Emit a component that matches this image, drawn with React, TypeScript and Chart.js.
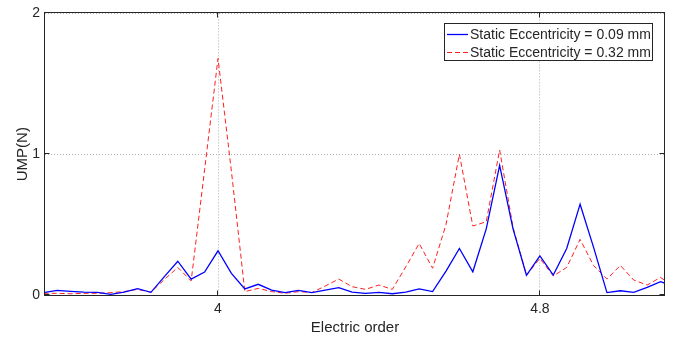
import { useEffect, useRef } from 'react';
import { Chart, registerables } from 'chart.js';

Chart.register(...registerables);

// Electric order (x) of each sample
const orders = [
  3.5667, 3.6, 3.6333, 3.6667, 3.7, 3.7333, 3.7667, 3.8, 3.8333, 3.8667,
  3.9, 3.9333, 3.9667, 4.0, 4.0333, 4.0667, 4.1, 4.1333, 4.1667, 4.2,
  4.2333, 4.2667, 4.3, 4.3333, 4.3667, 4.4, 4.4333, 4.4667, 4.5, 4.5333,
  4.5667, 4.6, 4.6333, 4.6667, 4.7, 4.7333, 4.7667, 4.8, 4.8333, 4.8667,
  4.9, 4.9333, 4.9667, 5.0, 5.0333, 5.0667, 5.1, 5.1333,
];

// UMP (N), static eccentricity 0.09 mm
const ecc009 = [
  0.017, 0.033, 0.026, 0.021, 0.019, 0.005, 0.021, 0.045, 0.019, 0.13,
  0.24, 0.113, 0.163, 0.314, 0.154, 0.043, 0.076, 0.035, 0.017, 0.033,
  0.017, 0.035, 0.052, 0.021, 0.012, 0.019, 0.009, 0.021, 0.043, 0.024,
  0.17, 0.33, 0.165, 0.47, 0.92, 0.47, 0.14, 0.277, 0.142, 0.33,
  0.645, 0.34, 0.017, 0.03, 0.019, 0.054, 0.095, 0.06,
];

// UMP (N), static eccentricity 0.32 mm
const ecc032 = [
  0.012, 0.012, 0.009, 0.012, 0.012, 0.017, 0.024, 0.04, 0.02, 0.11,
  0.196, 0.1, 0.89, 1.68, 0.88, 0.024, 0.047, 0.024, 0.012, 0.024,
  0.017, 0.064, 0.113, 0.059, 0.04, 0.071, 0.04, 0.2, 0.366, 0.19,
  0.5, 1.0, 0.49, 0.52, 1.03, 0.48, 0.14, 0.26, 0.135, 0.196,
  0.395, 0.21, 0.113, 0.21, 0.106, 0.071, 0.125, 0.06,
];

const seriesLabels = ['Static Eccentricity = 0.09 mm', 'Static Eccentricity = 0.32 mm'];
const xTickValues = [4, 4.8];
const xTickLabels = ['4', '4.8'];
const yTickValues = [0, 1, 2];
const yTickLabels = ['0', '1', '2'];

const FONT = '"Liberation Sans", Arial, Helvetica, sans-serif';
const TEXT = '#262626';
const FRAME = '#262626';
const GRID = '#b0b0b0';

const framePlugin = {
  id: 'matlabFrame',
  afterDatasetsDraw(chart: any) {
    const { ctx, chartArea: a, scales } = chart;
    ctx.save();
    ctx.strokeStyle = FRAME;
    ctx.lineWidth = 1;
    ctx.setLineDash([]);
    const L = Math.round(a.left) - 0.5;
    const R = Math.round(a.right) - 0.5;
    const T = Math.round(a.top) - 0.5;
    const B = Math.round(a.bottom) + 0.5;
    ctx.strokeRect(L, T, R - L, B - T);
    const tl = 5;
    ctx.beginPath();
    xTickValues.forEach((v) => {
      const px = Math.round(scales.x.getPixelForValue(v)) - 0.5;
      ctx.moveTo(px, B);
      ctx.lineTo(px, B - tl);
      ctx.moveTo(px, T);
      ctx.lineTo(px, T + tl);
    });
    yTickValues.forEach((v) => {
      const py = Math.round(scales.y.getPixelForValue(v)) - 0.5;
      ctx.moveTo(L, py);
      ctx.lineTo(L + tl, py);
      ctx.moveTo(R, py);
      ctx.lineTo(R - tl, py);
    });
    ctx.stroke();
    ctx.restore();
  },
  afterDraw(chart: any) {
    const { ctx, chartArea: a } = chart;
    const ds = chart.data.datasets;
    ctx.save();
    ctx.font = `14px ${FONT}`;
    let maxW = 0;
    ds.forEach((d: any) => {
      maxW = Math.max(maxW, ctx.measureText(d.label).width);
    });
    const sample = 21;
    const boxW = Math.round(26 + maxW + 2);
    const rowH = 18;
    const boxH = 38;
    const right = Math.round(a.right) - 12;
    const left = right - boxW;
    const top = Math.round(a.top) + 10;
    ctx.fillStyle = '#ffffff';
    ctx.fillRect(left, top, boxW, boxH);
    ctx.strokeStyle = FRAME;
    ctx.lineWidth = 1;
    ctx.strokeRect(left + 0.5, top + 0.5, boxW - 1, boxH - 1);
    ds.forEach((d: any, i: number) => {
      const cy = top + 11 + i * rowH;
      ctx.save();
      ctx.strokeStyle = d.borderColor;
      ctx.lineWidth = d.borderWidth;
      ctx.setLineDash(d.borderDash || []);
      ctx.beginPath();
      ctx.moveTo(left + 3, cy + 0.5);
      ctx.lineTo(left + 3 + sample, cy + 0.5);
      ctx.stroke();
      ctx.restore();
      ctx.fillStyle = TEXT;
      ctx.textBaseline = 'middle';
      ctx.textAlign = 'left';
      ctx.fillText(d.label, left + 26, cy + 1);
    });
    ctx.restore();
  },
};

export default function App() {
  const canvasRef = useRef<HTMLCanvasElement | null>(null);

  useEffect(() => {
    if (!canvasRef.current) return;
    const chart = new Chart(canvasRef.current, {
      type: 'line',
      data: {
        datasets: [
          {
            label: seriesLabels[0],
            data: orders.map((x, i) => ({ x, y: ecc009[i] })),
            borderColor: '#0000ff',
            borderWidth: 1.3,
            pointRadius: 0,
            tension: 0,
            fill: false,
          },
          {
            label: seriesLabels[1],
            data: orders.map((x, i) => ({ x, y: ecc032[i] })),
            borderColor: '#ff2020',
            borderWidth: 1,
            borderDash: [5, 3],
            pointRadius: 0,
            tension: 0,
            fill: false,
          },
        ],
      },
      options: {
        responsive: false,
        animation: false,
        devicePixelRatio: 1,
        layout: { padding: { top: 13, right: 9, left: 0, bottom: 0 } },
        plugins: {
          legend: { display: false },
          tooltip: { enabled: false },
        },
        scales: {
          x: {
            type: 'linear',
            min: 3.57,
            max: 5.111,
            afterBuildTicks: (s: any) => {
              s.ticks = xTickValues.map((v) => ({ value: v }));
            },
            afterFit: (s: any) => {
              s.height = 43;
            },
            ticks: {
              callback: (v: any) => {
                const i = xTickValues.indexOf(Number(v));
                return i >= 0 ? xTickLabels[i] : '';
              },
              font: { family: FONT, size: 14 },
              color: TEXT,
              padding: 6,
              maxRotation: 0,
              autoSkip: false,
            },
            grid: { color: GRID, drawTicks: false, lineWidth: 1 },
            border: { display: false, dash: [1, 2] },
            title: {
              display: true,
              text: 'Electric order',
              font: { family: FONT, size: 15 },
              color: TEXT,
              padding: { top: 0, bottom: 1 },
            },
          },
          y: {
            type: 'linear',
            min: 0,
            max: 2,
            afterBuildTicks: (s: any) => {
              s.ticks = yTickValues.map((v) => ({ value: v }));
            },
            afterFit: (s: any) => {
              s.width = 45;
            },
            ticks: {
              callback: (v: any) => {
                const i = yTickValues.indexOf(Number(v));
                return i >= 0 ? yTickLabels[i] : '';
              },
              font: { family: FONT, size: 14 },
              color: TEXT,
              padding: 5,
            },
            grid: { color: GRID, drawTicks: false, lineWidth: 1 },
            border: { display: false, dash: [1, 2] },
            title: {
              display: true,
              text: 'UMP(N)',
              font: { family: FONT, size: 15 },
              color: TEXT,
              padding: { top: 14, bottom: 0 },
            },
          },
        },
      },
      plugins: [framePlugin],
    } as any);
    return () => chart.destroy();
  }, []);

  return (
    <div style={{ position: 'fixed', left: 0, top: 0, width: 674, height: 338, background: '#ffffff' }}>
      <canvas ref={canvasRef} width={674} height={338} style={{ display: 'block', width: 674, height: 338 }} />
    </div>
  );
}
